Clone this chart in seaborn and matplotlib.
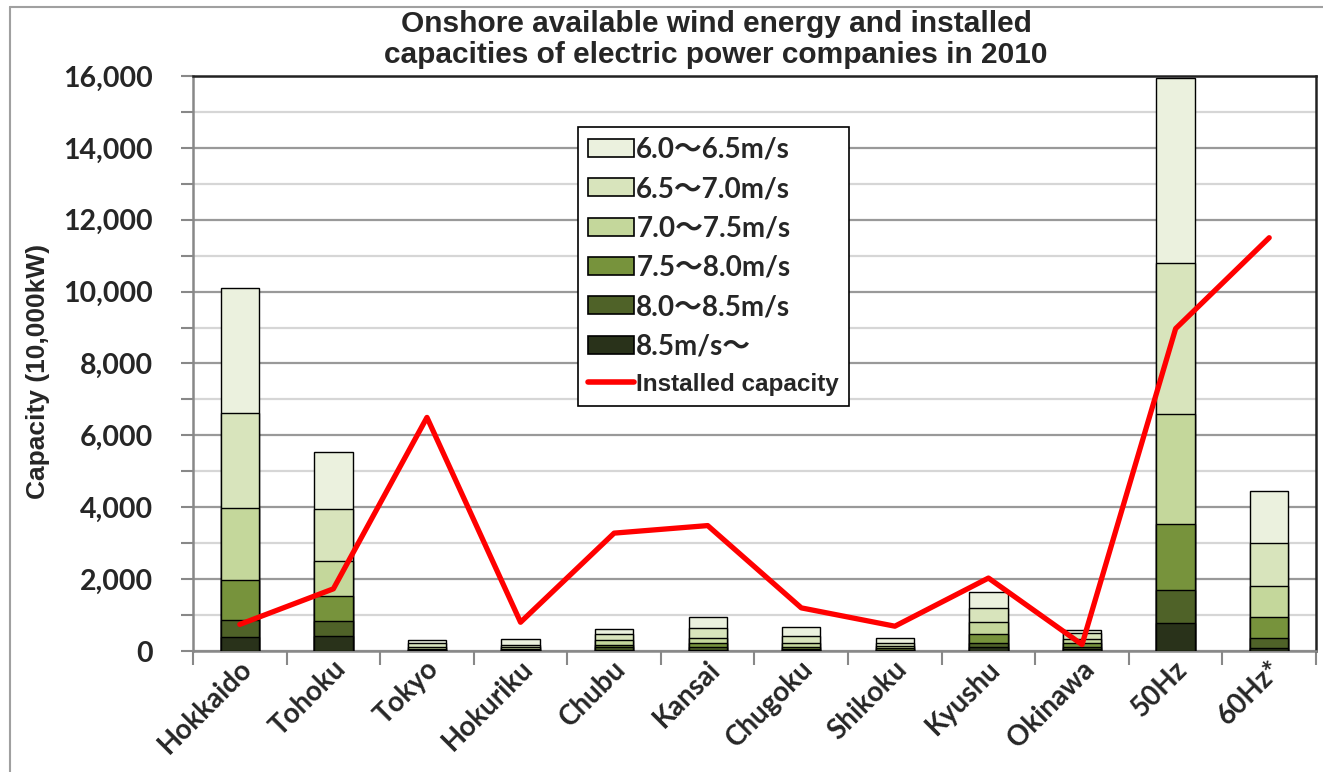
import matplotlib
matplotlib.use("Agg")
import matplotlib.pyplot as plt
import matplotlib.transforms as mtransforms
import numpy as np
import seaborn as sns
from matplotlib.patches import Patch
from matplotlib.lines import Line2D
from matplotlib.ticker import MultipleLocator, FuncFormatter, FixedLocator

regions = ['Hokkaido', 'Tohoku', 'Tokyo', 'Hokuriku', 'Chubu', 'Kansai',
           'Chugoku', 'Shikoku', 'Kyushu', 'Okinawa', '50Hz', '60Hz*']

# available wind energy by mean wind speed (10,000kW), bottom to top of stack
cap_85_up = [400, 417, 15, 13, 40, 33, 15, 14, 103, 50, 780, 85]
cap_80_85 = [465, 426, 20, 20, 63, 70, 28, 25, 128, 70, 908, 289]
cap_75_80 = [1110, 688, 30, 30, 72, 111, 60, 40, 234, 94, 1837, 566]
cap_70_75 = [2000, 982, 60, 40, 123, 156, 128, 60, 342, 112, 3076, 876]
cap_65_70 = [2660, 1439, 90, 72, 175, 262, 186, 75, 398, 166, 4187, 1196]
cap_60_65 = [3465, 1598, 100, 150, 127, 323, 243, 139, 446, 92, 5162, 1442]

installed = [740, 1730, 6500, 800, 3280, 3490, 1200, 690, 2030, 180, 8970, 11500]

bin_labels = ['8.5m/s〜', '8.0〜8.5m/s', '7.5〜8.0m/s',
              '7.0〜7.5m/s', '6.5〜7.0m/s', '6.0〜6.5m/s']
bin_colors = ['#29321a', '#4f6228', '#77933c', '#c4d79b', '#d8e4bc', '#ebf1de']

sns.set_style('white')
plt.rcParams['font.family'] = ['Lato', 'Noto Sans CJK JP', 'DejaVu Sans']

fig = plt.figure(figsize=(13.23, 7.72), dpi=100)
ax = fig.add_axes([193/1323, 1-651/772, (1316-193)/1323, (651-76)/772])

segments = [cap_85_up, cap_80_85, cap_75_80, cap_70_75, cap_65_70, cap_60_65]
cum = np.cumsum(np.array(segments), axis=0)

# draw cumulative totals from the top down so the stack shows through
for i in reversed(range(len(segments))):
    sns.barplot(x=regions, y=cum[i], color=bin_colors[i], saturation=1,
                edgecolor='black', linewidth=1.0, width=0.41,
                errorbar=None, ax=ax, zorder=3)

sns.lineplot(x=np.arange(len(regions)), y=installed, color='#ff0000',
             linewidth=3.8, ax=ax, zorder=5)

ax.set_xlim(-0.5, len(regions) - 0.5)
ax.set_ylim(0, 16000)

ax.yaxis.set_major_locator(MultipleLocator(2000))
ax.yaxis.set_minor_locator(MultipleLocator(1000))
ax.yaxis.set_major_formatter(FuncFormatter(lambda v, p: f'{int(v):,}'))
ax.grid(axis='y', which='major', color='#999999', linewidth=1.6, zorder=0)
ax.grid(axis='y', which='minor', color='#d6d6d6', linewidth=1.6, zorder=0)
ax.grid(axis='x', visible=False)
ax.set_axisbelow(True)

ax.tick_params(axis='y', which='both', direction='out', length=9, width=1.5,
               color='#888888', pad=20, left=True)
ax.tick_params(axis='x', which='major', length=0, pad=10)
ax.xaxis.set_minor_locator(FixedLocator(np.arange(-0.5, len(regions), 1.0)))
ax.tick_params(axis='x', which='minor', direction='out', length=10, width=1.5,
               color='#888888', bottom=True)

for lab in ax.get_yticklabels():
    lab.set_fontsize(20.5)
    lab.set_fontweight('bold')

ax.set_xticks(range(len(regions)))
ax.set_xticklabels(regions, rotation=45, ha='right', va='center',
                   rotation_mode='anchor', fontsize=20, fontweight='bold')
shift = mtransforms.ScaledTranslation(8/100, 0, fig.dpi_scale_trans)
for lab in ax.get_xticklabels():
    lab.set_transform(lab.get_transform() + shift)

for side in ['left', 'bottom']:
    ax.spines[side].set_color('#888888')
    ax.spines[side].set_linewidth(1.8)
for side in ['top', 'right']:
    ax.spines[side].set_color('#222222')
    ax.spines[side].set_linewidth(1.8)

ax.set_xlabel('')
ax.set_ylabel('Capacity (10,000kW)', family='Liberation Sans',
              fontsize=19, fontweight='bold')
ax.yaxis.set_label_coords(-0.127, 0.487)

handles = [Patch(facecolor=bin_colors[i], edgecolor='black', linewidth=1.2)
           for i in reversed(range(len(segments)))]
handles.append(Line2D([], [], color='#ff0000', linewidth=4))
labels = list(reversed(bin_labels)) + ['Installed capacity']
leg = ax.legend(handles, labels, loc='upper left',
                bbox_to_anchor=((578-193)/1123, (651-127)/575),
                frameon=True, fancybox=False, framealpha=1, edgecolor='black',
                borderpad=0.35, labelspacing=0.48, handlelength=1.65,
                handleheight=0.62, handletextpad=0.1, borderaxespad=0,
                prop={'size': 20, 'weight': 'bold'})
leg.get_frame().set_linewidth(1.2)
leg.set_zorder(10)
for t in leg.get_texts()[:-1]:
    t.set_fontfamily(['Lato', 'Noto Sans CJK JP'])
leg.get_texts()[-1].set_fontfamily('Liberation Sans')
leg.get_texts()[-1].set_fontsize(17.5)

fig.text(716/1323, 1-10/772,
         'Onshore available wind energy and installed\n'
         'capacities of electric power companies in 2010',
         ha='center', va='top', fontsize=21.5, fontweight='bold',
         family='Liberation Sans', linespacing=1.12)

# outer frame lines
fig.add_artist(Line2D([10/1323, 1], [1-7/772, 1-7/772], transform=fig.transFigure,
                      color='#a0a0a0', linewidth=1.5))
fig.add_artist(Line2D([10/1323, 10/1323], [0, 1-7/772], transform=fig.transFigure,
                      color='#a0a0a0', linewidth=1.5))

fig.savefig('out.png', dpi=100)
